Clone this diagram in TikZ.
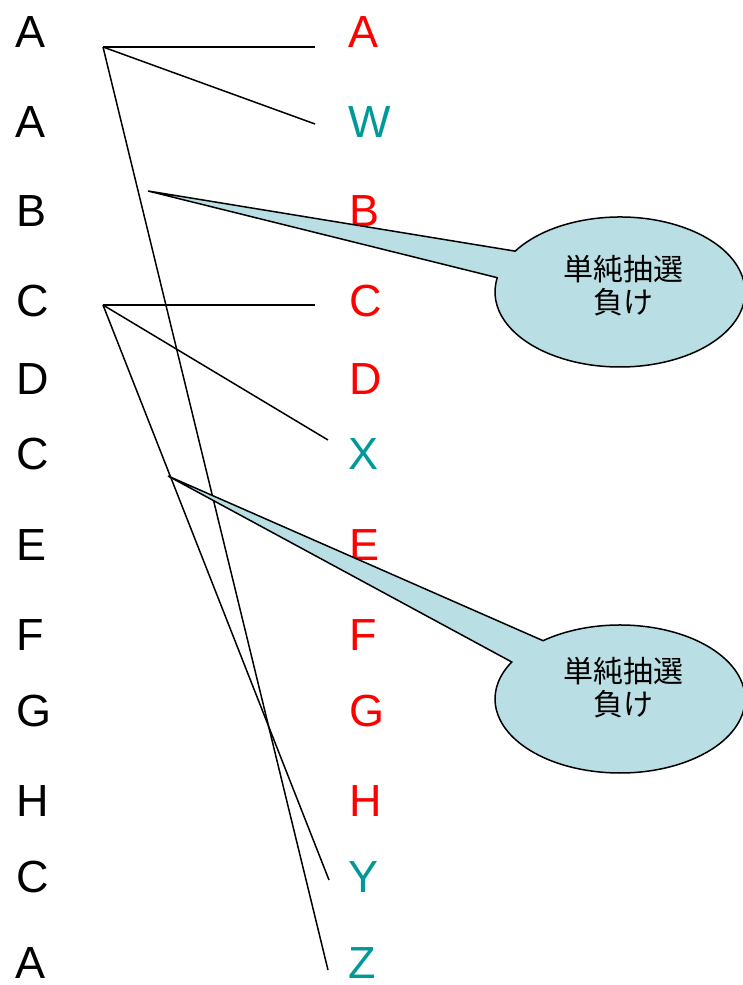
\documentclass[tikz,border=0pt]{standalone}
\usepackage{fontspec}
\usetikzlibrary{calc}
\setmainfont{Liberation Sans}
\newfontfamily\jpfont{Noto Sans CJK JP}
\definecolor{tealc}{RGB}{0,153,153}
\definecolor{callfill}{RGB}{185,222,227}
\begin{document}
\begin{tikzpicture}[x=1pt,y=1pt,
  lefttxt/.style={anchor=west,inner sep=0pt,font=\fontsize{45}{45}\selectfont,text=black},
  hit/.style={lefttxt,text=red},
  miss/.style={lefttxt,text=tealc},
  link/.style={draw=black,line width=1.5pt},
  callout/.style={fill=callfill,draw=black,line width=1.5pt},
  calltxt/.style={font=\jpfont\fontsize{30}{33}\selectfont,align=center,text=black}]
\useasboundingbox (0,0) rectangle (742,985);
% left column
\node[lefttxt] (L1) at (15,953) {A};
\node[lefttxt] (L2) at (15,863) {A};
\node[lefttxt] (L3) at (16,774) {B};
\node[lefttxt] (L4) at (16,684) {C};
\node[lefttxt] (L5) at (16,606) {D};
\node[lefttxt] (L6) at (16,531) {C};
\node[lefttxt] (L7) at (16,440) {E};
\node[lefttxt] (L8) at (16,350) {F};
\node[lefttxt] (L9) at (16,274) {G};
\node[lefttxt] (L10) at (16,184) {H};
\node[lefttxt] (L11) at (16,108) {C};
\node[lefttxt] (L12) at (15,22) {A};
% right column
\node[hit] (R1) at (348,953) {A};
\node[miss] (R2) at (348,863) {W};
\node[hit] (R3) at (349,774) {B};
\node[hit] (R4) at (349,684) {C};
\node[hit] (R5) at (349,606) {D};
\node[miss] (R6) at (348,531) {X};
\node[hit] (R7) at (349,440) {E};
\node[hit] (R8) at (349,350) {F};
\node[hit] (R9) at (349,274) {G};
\node[hit] (R10) at (349,184) {H};
\node[miss] (R11) at (348,108) {Y};
\node[miss] (R12) at (348,22) {Z};
% connector ends
\coordinate (sA) at (103,938);
\coordinate (sC) at (103,680);
\coordinate (eA) at (315,938);
\coordinate (eW) at (315,861);
\coordinate (eZ) at (328,15);
\coordinate (eC) at (315,680);
\coordinate (eX) at (328,545);
\coordinate (eY) at (329,105);
\draw[link] (sA) -- (eA);
\draw[link] (sA) -- (eW);
\draw[link] (sA) -- (eZ);
\draw[link] (sC) -- (eC);
\draw[link] (sC) -- (eX);
\draw[link] (sC) -- (eY);
% callout 1
\coordinate (t1) at (148,794);
\coordinate (c1) at (620,693);
\path[callout] (t1) -- ($(c1)+(147:125 and 75)$) arc[start angle=147,end angle=-191,x radius=125,y radius=75] -- cycle;
\node[calltxt] (k1) at (623,699) {単純抽選\\負け};
% callout 2
\coordinate (t2) at (168,509);
\coordinate (c2) at (620,286);
\path[callout] (t2) -- ($(c2)+(128:125 and 74)$) arc[start angle=128,end angle=-210,x radius=125,y radius=74] -- cycle;
\node[calltxt] (k2) at (623,297) {単純抽選\\負け};
\end{tikzpicture}
\end{document}
